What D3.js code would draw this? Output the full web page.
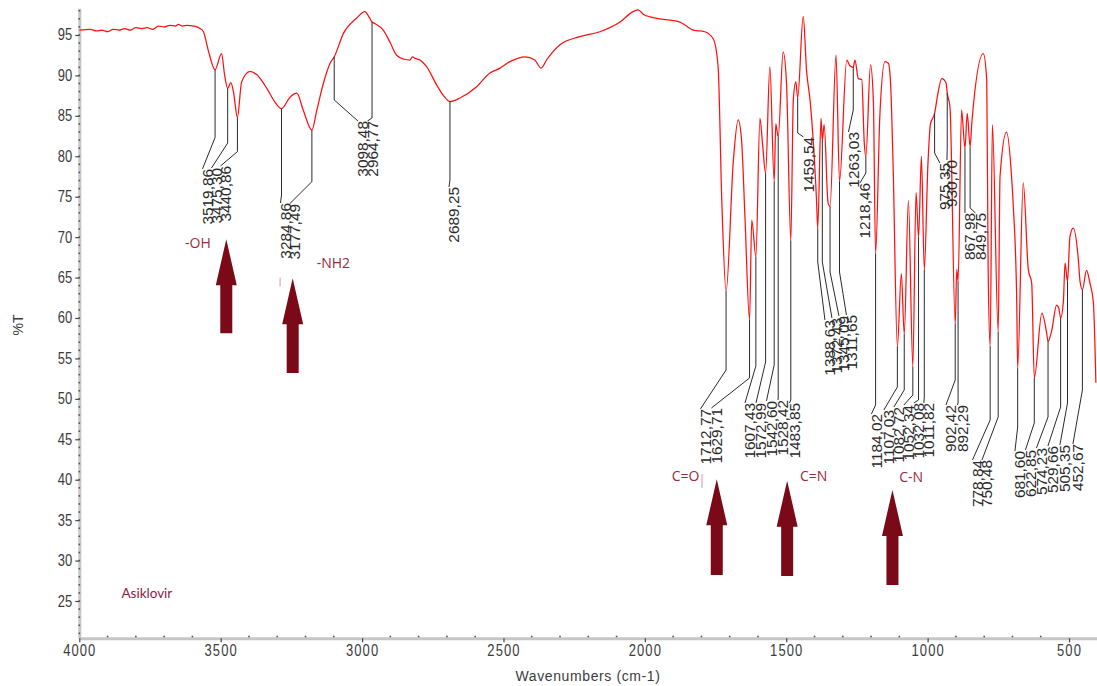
<!DOCTYPE html>
<html><head><meta charset="utf-8">
<script src="https://cdn.jsdelivr.net/npm/d3@7"></script>
<style>
html,body{margin:0;padding:0;background:#fff;}
svg{display:block;background:#fff;}
</style></head><body>
<svg id="chart" width="1097" height="686"></svg>
<script>
// FTIR spectrum of acyclovir: [wavenumber cm-1, %T]
const spectrum = [
  [4000,95.6],[3960,95.7],[3940,95.5],[3920,95.6],[3900,95.4],[3880,95.7],[3860,95.6],[3840,95.8],
  [3820,95.6],[3800,95.9],[3780,95.8],[3760,95.9],[3740,95.7],[3720,96.1],[3700,96.0],[3680,96.2],
  [3660,96.1],[3650,96.3],[3635,96.1],[3620,96.2],[3595,96.1],[3573,95.8],[3561,95.4],[3544,93.1],
  [3519.86,90.7],[3497,92.7],[3486,90.0],[3475.30,88.4],[3464,89.1],[3455,88.0],[3440.86,84.8],
  [3426,89.2],[3396,90.5],[3373,90.1],[3337,88.4],[3310,86.8],[3284.86,85.9],[3255,87.3],[3231,87.8],
  [3208,85.7],[3177.49,83.25],[3160,85.7],[3137,89.0],[3113,91.5],[3098.48,92.3],[3066,95.2],
  [3019,97.1],[2990,97.9],[2975,97.2],[2964.77,96.6],[2954,96.4],[2925,95.6],[2900,94.0],[2878,92.5],
  [2850,92.0],[2831,91.9],[2822,92.3],[2812,92.1],[2795,91.9],[2785,91.6],[2772,91.1],[2736,88.8],
  [2710,87.4],[2689.25,86.75],[2654,87.2],[2595,88.6],[2548,90.3],[2512,90.9],[2477,91.7],[2424,92.3],
  [2389,91.9],[2367,90.9],[2346,92.0],[2300,93.8],[2230,94.8],[2159,95.4],[2088,96.6],[2046,97.8],
  [2024,98.1],[2003,97.5],[1947,97.0],[1876,96.6],[1829,95.6],[1788,95.4],[1758,94.5],[1741,91.1],
  [1728,74.6],[1712.77,63.3],[1687,79.5],[1670,84.5],[1658,82.0],[1646,72.5],[1629.71,59.8],
  [1622,72.1],[1607.43,67.6],[1593,84.7],[1584,81.6],[1572.99,77.9],[1558,91.1],[1542.60,76.9],
  [1537,84.0],[1528.42,82.4],[1511,92.9],[1499,89.0],[1483.85,69.6],[1475,87.0],[1466,89.2],
  [1459.54,87.2],[1440,97.3],[1428,90.5],[1416,87.0],[1393,74.6],[1388.63,71.1],[1377,84.7],
  [1372.43,82.0],[1366,83.9],[1352,74.2],[1345.09,73.8],[1324,92.5],[1311.65,76.9],[1286,91.9],
  [1275,91.2],[1263.03,91.0],[1257,91.9],[1245,89.6],[1233,89.5],[1224,81.6],[1218.46,80.0],
  [1202,91.3],[1192,87.0],[1184.02,68.0],[1169,85.0],[1151,91.7],[1139,91.5],[1131,89.0],[1122,78.7],
  [1107.03,56.5],[1093,65.5],[1082.72,58.0],[1068,74.5],[1052.34,54.0],[1041,75.5],[1032.08,70.0],
  [1022,80.0],[1011.82,66.0],[999,79.0],[990,84.0],[975.35,85.3],[965,87.5],[950,89.6],[935,89.1],
  [930.70,87.8],[921,86.1],[902.42,59.3],[897,66.0],[892.29,64.5],[880,85.7],[867.98,81.0],[860,85.3],
  [849.75,81.2],[844,84.0],[803,92.7],[791,89.4],[786,66.1],[778.84,56.5],[771,83.9],[750.48,58.3],
  [744,77.5],[721,83.0],[703,77.4],[697,73.8],[685,62.2],[681.60,53.8],[662,76.7],[644,66.0],
  [632,64.3],[622.85,52.6],[596,60.6],[579,58.1],[574.23,57.1],[561,58.5],[544,61.6],[536,61.2],
  [529.66,60.0],[520,62.0],[514,66.8],[505.35,64.5],[497,70.0],[485,71.1],[467,67.2],[461,64.5],
  [452.67,63.5],[438,65.9],[426,64.3],[414,62.0],[405,52.0]
];

// Labelled band positions (cm-1)
const peakWavenumbers = [
  3519.86,3475.30,3440.86,3284.86,3177.49,3098.48,2964.77,2689.25,
  1712.77,1629.71,1607.43,1572.99,1542.60,1528.42,1483.85,1459.54,
  1388.63,1372.43,1345.09,1311.65,1263.03,1218.46,1184.02,
  1107.03,1082.72,1052.34,1032.08,1011.82,975.35,930.70,902.42,892.29,
  867.98,849.75,778.84,750.48,681.60,622.85,574.23,529.66,505.35,452.67
];
// %T where each leader line bends
const peakLeaderElbow = [
  82.32,81.64,80.57,75.21,76.86,86.96,84.74,77.07,
  53.57,52.58,54.07,54.56,54.19,50.11,49.86,82.88,
  66.93,66.93,65.69,65.69,85.72,77.93,49.24,
  51.47,51.10,50.48,49.86,50.23,80.41,81.15,52.33,49.49,
  73.23,73.60,47.39,47.76,46.52,47.02,47.76,49.0,49.49,51.10
];
// [wavenumber, %T] of each rotated label's upper end
const peakLabelAnchor = [
  [3564.4,78.43],[3532.5,78.55],[3500.7,78.80],[3288.5,74.22],[3256.7,74.10],[3014.5,84.36],[2980.9,84.36],[2692.7,76.20],
  [1803.4,48.75],[1764.5,48.87],[1646.0,49.49],[1607.1,49.49],[1570.0,49.74],[1529.3,49.86],[1488.7,49.49],[1439.2,82.39],
  [1363.1,59.75],[1338.4,60.00],[1313.6,60.25],[1287.1,60.37],[1280.0,83.0],[1239.3,76.70],[1198.7,48.13],
  [1154.8,48.62],[1119.4,48.99],[1084.1,49.24],[1048.7,49.49],[1013.3,49.49],[956.7,79.17],[931.7,79.54],[935.2,49.24],[894.6,49.24],
  [868.1,72.99],[830.9,72.99],[841.5,42.44],[807.9,42.44],[691.2,43.55],[654.1,43.68],[615.2,43.92],[574.6,44.17],[532.2,44.30],[486.2,44.42]
];

// Functional group annotations
const bandNames = ["-OH","-NH2","C=O","C=N","C-N"];
const bandTextAt = [[3626.2,68.66],[3160.5,66.19],[1905.2,39.84],[1451.5,39.84],[1100.4,39.72]];
const bandArrowAt = [3480.2,3245.4,1745.7,1496.8,1124.4];
const bandArrowTip = [69.73,64.91,40.05,39.88,38.73];
const bandArrowBase = [58.11,53.2,28.22,28.1,26.98];
const caretMarks = [[3290,65.0,63.9],[1798,40.7,39.0]];

const sampleName = "Asiklovir";
const sampleNameAt = [3851,25.4];

const yTicks = [25,30,35,40,45,50,55,60,65,70,75,80,85,90,95];
const xTicks = [4000,3500,3000,2500,2000,1500,1000,500];

const svg = d3.select("#chart");
const x = d3.scaleLinear().domain([4000, 400]).range([79.3, 1097.3]);
const y = d3.scaleLinear().domain([20.4, 98.3]).range([638.2, 8.3]);

const axisFont = "'Liberation Sans', Arial, sans-serif";

// Y axis
const yAxis = svg.append("g").attr("transform", `translate(${x(4000)},0)`)
  .call(d3.axisLeft(y).tickValues(yTicks).tickSize(4).tickSizeOuter(0).tickFormat(d3.format("d")));
yAxis.select(".domain").attr("stroke", "#c6c6c6").attr("stroke-width", 3);
yAxis.selectAll(".tick line").attr("stroke", "#444").attr("stroke-width", 1.2);
yAxis.selectAll(".tick text")
  .attr("x", null).attr("dy", null)
  .attr("transform", "translate(-7,5) scale(1,1.2)")
  .attr("font-family", axisFont).attr("font-size", 13).attr("fill", "#3c3c3c");
yAxis.selectAll(".minor").data(d3.range(21, 99)).enter().append("rect")
  .attr("x", -0.8).attr("y", d => y(d) - 0.8).attr("width", 1.6).attr("height", 1.6).attr("fill", "#555");

// X axis
const xAxis = svg.append("g").attr("transform", `translate(0,${y(20.4)})`)
  .call(d3.axisBottom(x).tickValues(xTicks).tickSize(4).tickSizeOuter(0).tickFormat(d3.format("d")));
xAxis.select(".domain").attr("stroke", "#c6c6c6").attr("stroke-width", 3);
xAxis.selectAll(".tick line").attr("stroke", "#444").attr("stroke-width", 1.2);
xAxis.selectAll(".tick text")
  .attr("y", null).attr("dy", null)
  .attr("transform", "translate(0,18) scale(1,1.2)")
  .attr("font-family", axisFont).attr("font-size", 13).attr("letter-spacing", 1.1).attr("fill", "#3c3c3c");
xAxis.selectAll(".minor").data(d3.range(500, 4000, 100).filter(d => d % 500 !== 0)).enter().append("rect")
  .attr("x", d => x(d) - 0.8).attr("y", -2.5).attr("width", 1.6).attr("height", 1.6).attr("fill", "#555");

// Axis titles
svg.append("text").attr("x", 588).attr("y", 681).attr("text-anchor", "middle")
  .attr("font-family", axisFont).attr("font-size", 14).attr("letter-spacing", 0.6).attr("fill", "#3c3c3c")
  .text("Wavenumbers (cm-1)");
svg.append("text").attr("transform", "translate(23,325) rotate(-90)").attr("text-anchor", "middle")
  .attr("font-family", axisFont).attr("font-size", 14).attr("fill", "#3c3c3c").text("%T");

// Spectrum trace
const line = d3.line().x(d => x(d[0])).y(d => y(d[1])).curve(d3.curveMonotoneX);
svg.append("path").datum(spectrum)
  .attr("fill", "none").attr("stroke", "#ff1010").attr("stroke-width", 1.25)
  .attr("stroke-linejoin", "round").attr("d", line);

// Peak leader lines and labels
const tAt = new Map(spectrum.map(d => [d[0], d[1]]));
const fmt = w => d3.format(".2f")(w).replace(".", ",");
const peaks = peakWavenumbers.map((w, i) => ({
  w, t: tAt.get(w), elbow: peakLeaderElbow[i], lw: peakLabelAnchor[i][0], lt: peakLabelAnchor[i][1]
}));
const pg = svg.append("g");
pg.selectAll("path").data(peaks).enter().append("path")
  .attr("fill", "none").attr("stroke", "#2a2a2a").attr("stroke-width", 1)
  .attr("d", d => `M${x(d.w)},${y(d.t)}V${y(d.elbow)}L${x(d.lw)},${y(d.lt)}`);
pg.selectAll("text").data(peaks).enter().append("text")
  .attr("transform", d => `translate(${x(d.lw) + 10.5},${y(d.lt)}) rotate(-90) scale(1.1,1)`)
  .attr("text-anchor", "end")
  .attr("font-family", axisFont).attr("font-size", 14).attr("fill", "#2a2a2a")
  .text(d => fmt(d.w));

// Group annotations: labels and block arrows
const annFont = "'Open Sans', 'Noto Sans', sans-serif";
const bands = bandNames.map((name, i) => ({
  name, tx: bandTextAt[i][0], tt: bandTextAt[i][1], aw: bandArrowAt[i], tip: bandArrowTip[i], base: bandArrowBase[i]
}));
const ag = svg.append("g");
ag.selectAll("text").data(bands).enter().append("text")
  .attr("x", d => x(d.tx)).attr("y", d => y(d.tt))
  .attr("font-family", annFont).attr("font-size", 14).attr("fill", "#9c2a3f")
  .text(d => d.name);
const headH = 46, headW = 10.5, shaftW = 6;
ag.selectAll("path").data(bands).enter().append("path")
  .attr("fill", "#7a0a18")
  .attr("d", d => {
    const cx = x(d.aw), ty = y(d.tip), by = y(d.base), hy = ty + headH;
    return `M${cx},${ty}L${cx + headW},${hy}L${cx + shaftW},${hy}L${cx + shaftW},${by}` +
           `L${cx - shaftW},${by}L${cx - shaftW},${hy}L${cx - headW},${hy}Z`;
  });
ag.selectAll("line").data(caretMarks).enter().append("line")
  .attr("x1", d => x(d[0])).attr("x2", d => x(d[0]))
  .attr("y1", d => y(d[1])).attr("y2", d => y(d[2]))
  .attr("stroke", "#d59aa4").attr("stroke-width", 1);

// Sample name
svg.append("text").attr("x", x(sampleNameAt[0])).attr("y", y(sampleNameAt[1]))
  .attr("font-family", "Lato, 'Open Sans', sans-serif").attr("font-size", 13.5).attr("fill", "#8c2142")
  .text(sampleName);
</script>
</body></html>
